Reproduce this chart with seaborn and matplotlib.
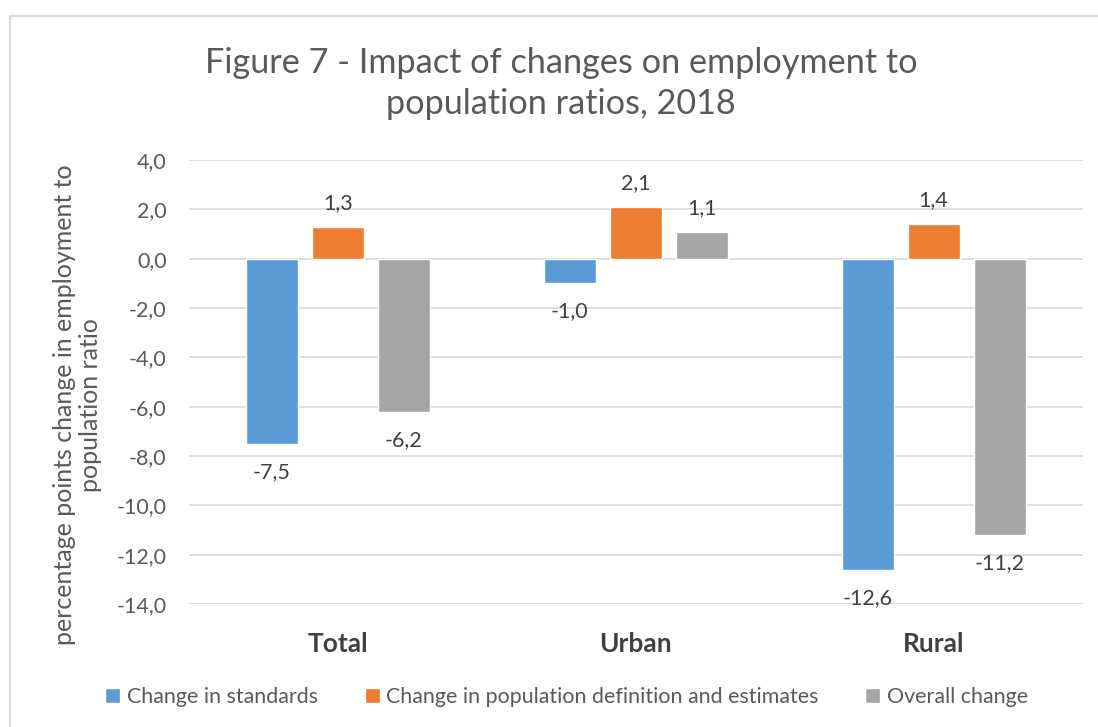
import matplotlib
matplotlib.use("Agg")
import matplotlib.pyplot as plt
from matplotlib.patches import Rectangle
from matplotlib.ticker import FuncFormatter
import seaborn as sns
import pandas as pd

# Chart data
categories = ["Total", "Urban", "Rural"]
series_names = [
    "Change in standards",
    "Change in population definition and estimates",
    "Overall change",
]
change_in_standards = [-7.5, -1.0, -12.6]
change_in_population = [1.3, 2.1, 1.4]
overall_change = [-6.2, 1.1, -11.2]
y_ticks = [4, 2, 0, -2, -4, -6, -8, -10, -12, -14]

colors = ["#5B9BD5", "#ED7D31", "#A5A5A5"]
text_color = "#595959"
grid_color = "#D9D9D9"

rows = []
for name, values in zip(series_names,
                        [change_in_standards, change_in_population, overall_change]):
    for cat, v in zip(categories, values):
        rows.append({"category": cat, "series": name, "value": v})
df = pd.DataFrame(rows)

sns.set_theme(style="white")
plt.rcParams["font.family"] = ["Lato", "DejaVu Sans"]

fig = plt.figure(figsize=(10.98, 7.27), dpi=100)
ax = fig.add_axes([0.172, 0.169, 0.814, 0.611])

sns.barplot(data=df, x="category", y="value", hue="series", order=categories,
            hue_order=series_names, palette=colors, width=0.665, gap=0.21,
            saturation=1, ax=ax, legend=True)

def comma_fmt(v, pos=None):
    return f"{v:.1f}".replace(".", ",")

# Value labels: above positive bars, below negative bars
for container in ax.containers:
    vals = container.datavalues
    pos_labels = [comma_fmt(v) if v >= 0 else "" for v in vals]
    neg_labels = [comma_fmt(v) if v < 0 else "" for v in vals]
    ax.bar_label(container, labels=pos_labels, padding=10, fontsize=15.5,
                 color="#404040")
    ax.bar_label(container, labels=neg_labels, padding=13, fontsize=15.5,
                 color="#404040")

ax.set_ylim(-14, 4)
ax.set_xlim(-0.5, 2.5)
ax.set_yticks(y_ticks)
ax.yaxis.set_major_formatter(FuncFormatter(comma_fmt))
ax.yaxis.grid(True, color=grid_color, linewidth=1.2)
ax.set_axisbelow(True)
for s in ax.spines.values():
    s.set_visible(False)

ax.tick_params(axis="y", labelsize=15.5, labelcolor=text_color, length=0, pad=16)
ax.tick_params(axis="x", labelsize=19, labelcolor="#404040", length=0, pad=20)
for lbl in ax.get_xticklabels():
    lbl.set_fontweight("bold")

ax.set_xlabel("")
ax.set_ylabel("percentage points change in employment to\npopulation ratio",
              fontsize=18, color=text_color, linespacing=1.15)
ax.yaxis.set_label_coords(-0.097, 0.448)

fig.suptitle("Figure 7 - Impact of changes on employment to\npopulation ratios, 2018",
             x=0.511, y=0.885, va="center", fontsize=24.7, color=text_color,
             linespacing=1.35)

handles, labels = ax.get_legend_handles_labels()
ax.get_legend().remove()
fig.legend(handles, labels, loc="center", bbox_to_anchor=(0.516, 0.041), ncol=3,
           frameon=False, fontsize=15.4, labelcolor=text_color,
           handlelength=0.7, handleheight=0.7, handletextpad=0.3,
           columnspacing=2.2)

# Light chart border
fig.patches.append(Rectangle((10 / 1098, -0.1), 1.2, (727 - 16) / 727 + 0.1,
                             transform=fig.transFigure, fill=False,
                             edgecolor=grid_color, linewidth=1.5))

fig.savefig("out.png", dpi=100)
